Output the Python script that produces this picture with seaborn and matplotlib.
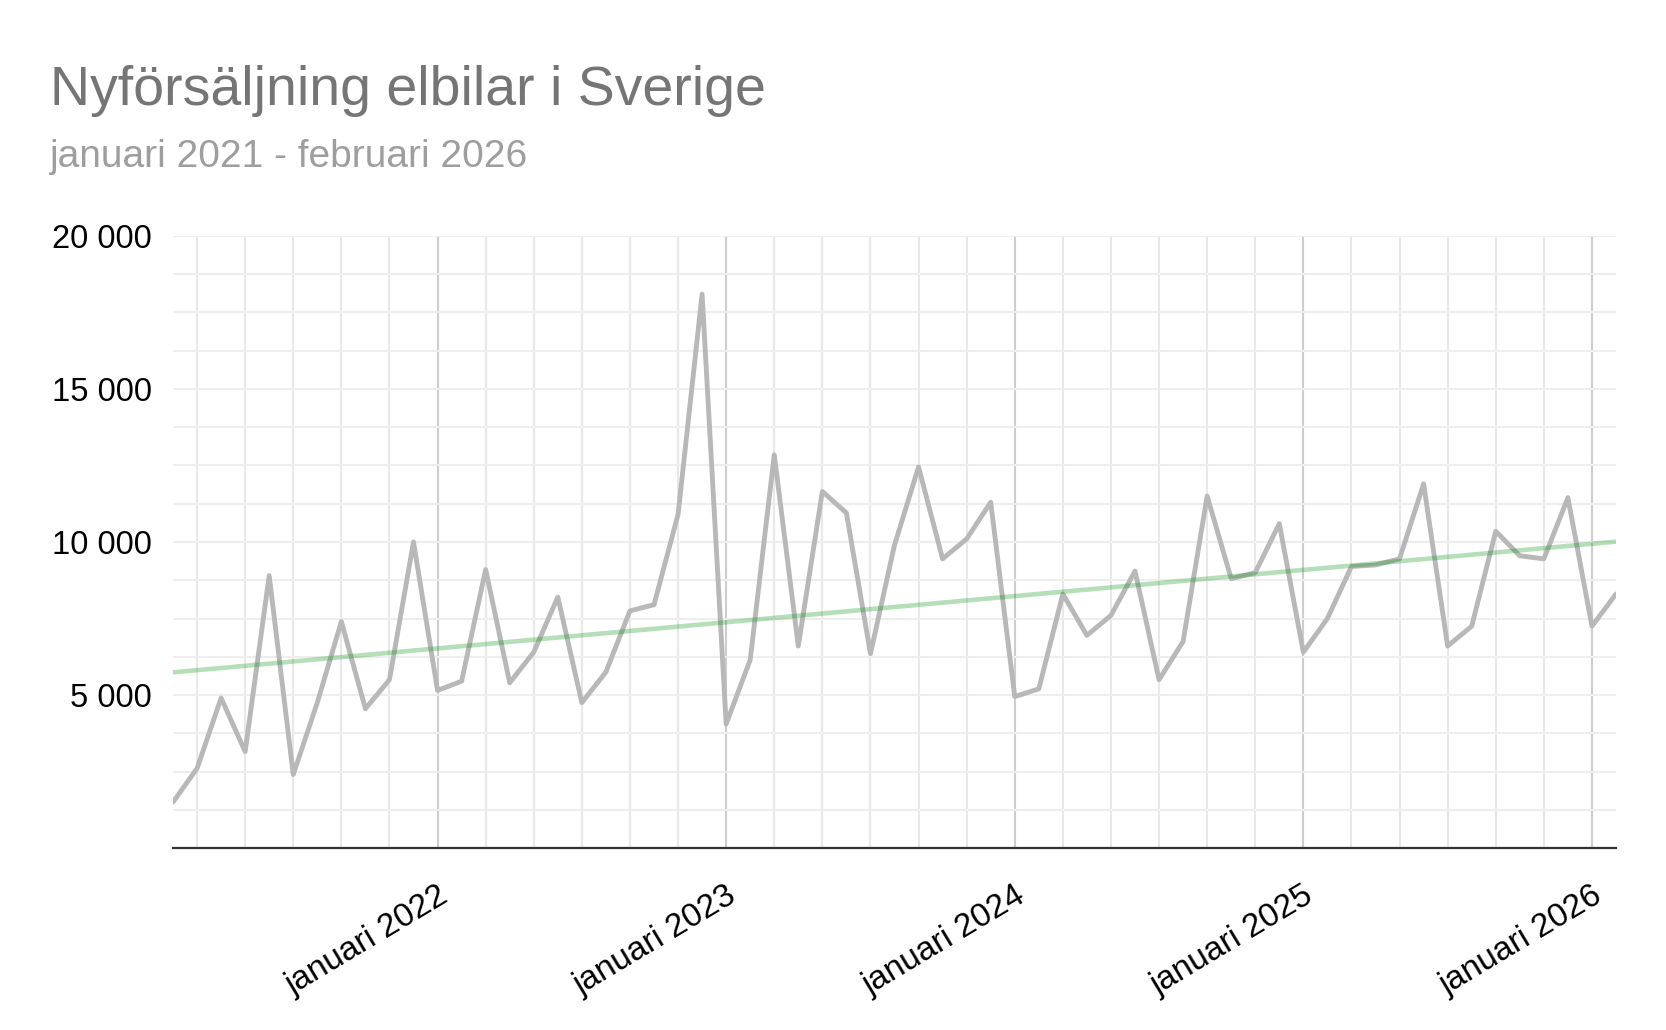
import numpy as np
import pandas as pd
import matplotlib
matplotlib.use("Agg")
import matplotlib.pyplot as plt
import seaborn as sns
from matplotlib.ticker import FuncFormatter, MultipleLocator

# ---- data -------------------------------------------------------------
months = pd.period_range("2021-02", "2026-02", freq="M")
sales = [1500, 2600, 4900, 3150, 8900, 2400, 4750, 7400, 4550, 5500,
         10000, 5150, 5450, 9100, 5400, 6400, 8200, 4750, 5750, 7750,
         7950, 10900, 18100, 4050, 6150, 12850, 6600, 11650, 10950, 6350,
         9900, 12450, 9450, 10100, 11300, 4950, 5200, 8300, 6950, 7600,
         9050, 5500, 6750, 11500, 8800, 9000, 10600, 6400, 7500, 9200,
         9250, 9450, 11900, 6600, 7250, 10350, 9550, 9450, 11450, 7250,
         8300]
year_labels = ["januari 2022", "januari 2023", "januari 2024",
               "januari 2025", "januari 2026"]
y_major = [5000, 10000, 15000, 20000]

title = "Nyförsäljning elbilar i Sverige"
subtitle = "januari 2021 - februari 2026"

# month index (januari 2021 = 0)
t = (months.year - 2021) * 12 + months.month - 1
df = pd.DataFrame({"t": np.asarray(t), "sales": sales})
year_pos = [int(v) for v, m in zip(t, months.month) if m == 1]

# ---- style ------------------------------------------------------------
sns.set_theme(style="white")
plt.rcParams["font.family"] = ["Liberation Sans", "DejaVu Sans"]

W, H = 1666, 1030
fig = plt.figure(figsize=(W / 100, H / 100), dpi=100)
left, right, top, bottom = 173, 1616, 236, 848
ax = fig.add_axes([left / W, 1 - bottom / H, (right - left) / W, (bottom - top) / H])

sns.lineplot(data=df, x="t", y="sales", ax=ax, color="#b8b8b8",
             linewidth=3.5, zorder=3)
sns.regplot(data=df, x="t", y="sales", ax=ax, scatter=False, ci=None,
            line_kws=dict(color="#109618", alpha=0.3, linewidth=3.3,
                          zorder=4, solid_capstyle="butt"))

ax.set_xlim(df["t"].min(), df["t"].max())
ax.set_ylim(0, 20000)
ax.set_xlabel("")
ax.set_ylabel("")

# x ticks / grid
ax.set_xticks(year_pos)
ax.set_xticklabels(year_labels)
ax.xaxis.set_minor_locator(MultipleLocator(2))
ax.grid(which="minor", axis="x", color="#e8e8e8", linewidth=1.5, zorder=0)
ax.grid(which="major", axis="x", color="#cdcdcd", linewidth=1.5, zorder=0)

# y ticks / grid
ax.set_yticks(y_major)
ax.yaxis.set_major_formatter(FuncFormatter(lambda v, p: f"{v:,.0f}".replace(",", " ")))
ax.yaxis.set_minor_locator(MultipleLocator(1250))
ax.grid(which="both", axis="y", color="#eeeeee", linewidth=1.5, zorder=0)
ax.set_axisbelow(True)

ax.tick_params(axis="both", which="both", length=0)
ax.tick_params(axis="y", labelsize=23.5, labelcolor="#000000", pad=15)
ax.tick_params(axis="x", labelsize=24, labelcolor="#000000", pad=23)
for lab in ax.get_xticklabels():
    lab.set_rotation(31)
    lab.set_rotation_mode("anchor")
    lab.set_ha("right")
    lab.set_va("top")

for s in ["top", "right", "left"]:
    ax.spines[s].set_visible(False)
ax.spines["bottom"].set_color("#333333")
ax.spines["bottom"].set_linewidth(1.6)
ax.spines["bottom"].set_zorder(5)

fig.text(50 / W, 1 - 105 / H, title, fontsize=40, color="#757575", va="baseline", ha="left")
fig.text(50 / W, 1 - 167 / H, subtitle, fontsize=28, color="#9e9e9e", va="baseline", ha="left")

fig.savefig("out.png", dpi=100, facecolor="white")
